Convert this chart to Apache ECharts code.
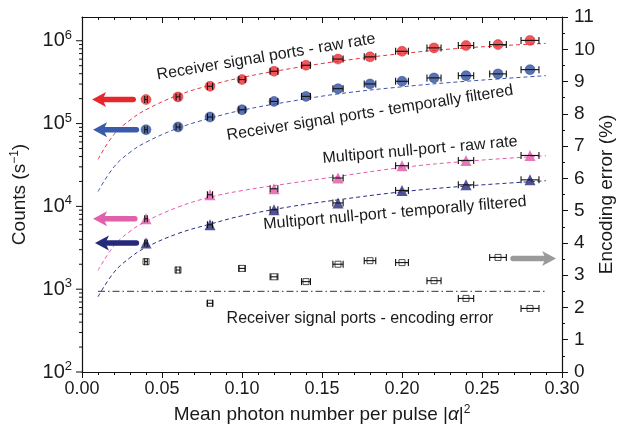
<!DOCTYPE html>
<html><head><meta charset="utf-8">
<script src="https://cdn.jsdelivr.net/npm/echarts@6/dist/echarts.min.js"></script>
<style>html,body{margin:0;padding:0;background:#fff}#c{width:617px;height:437px}</style>
</head><body><div id="c"></div>
<script>
// ---------- data ----------
const muAll   = [0.04,0.06,0.08,0.10,0.12,0.14,0.16,0.18,0.20,0.22,0.24,0.26,0.28];
const rawRate = [1.95e5,2.10e5,2.82e5,3.40e5,4.28e5,5.06e5,6.01e5,6.39e5,7.46e5,8.20e5,8.75e5,8.99e5,1.01e6];
const filtRate= [8.44e4,9.10e4,1.20e5,1.47e5,1.85e5,2.13e5,2.64e5,3.01e5,3.24e5,3.56e5,3.79e5,3.98e5,4.48e5];
const encErr  = [3.42,3.16,2.13,3.21,2.95,2.80,3.34,3.45,3.39,2.83,2.28,3.55,1.97];
const xErrAll = [0.0008,0.0012,0.0016,0.0020,0.0024,0.0028,0.0032,0.0036,0.0040,0.0044,0.0048,0.0052,0.0056];

const muNull   = [0.04,0.08,0.12,0.16,0.20,0.24,0.28];
const nullRaw  = [7.08e3,1.38e4,1.63e4,2.20e4,3.10e4,3.59e4,4.12e4];
const nullFilt = [3.60e3,5.99e3,9.10e3,1.10e4,1.56e4,1.82e4,2.09e4];
const xErrNull = [0.0008,0.0016,0.0024,0.0032,0.0040,0.0048,0.0056];

const fitMu       = [0.01,0.02,0.03,0.04,0.06,0.08,0.10,0.13,0.16,0.20,0.24,0.29];
const fitRaw      = [3.7e4,7.4e4,1.1e5,1.47e5,2.2e5,2.9e5,3.6e5,4.6e5,5.65e5,7.0e5,8.2e5,9.3e5];
const fitFilt     = [1.51e4,3.0e4,4.5e4,5.95e4,8.8e4,1.16e5,1.45e5,1.85e5,2.28e5,2.78e5,3.24e5,3.79e5];
const fitNullRaw  = [1.68e3,3.35e3,5.0e3,6.6e3,9.8e3,1.29e4,1.55e4,1.9e4,2.3e4,2.95e4,3.5e4,4.09e4];
const fitNullFilt = [810,1.6e3,2.4e3,3.2e3,4.7e3,6.1e3,7.7e3,9.9e3,1.2e4,1.5e4,1.76e4,2.04e4];

const thresholdMu  = [0.01,0.29];
const thresholdErr = 2.5;

// arrows: [tailMu, tipMu, value]
const arrowRaw      = [0.032,0.0063,1.95e5];
const arrowFilt     = [0.034,0.0069,8.44e4];
const arrowNullRaw  = [0.033,0.0069,7.08e3];
const arrowNullFilt = [0.034,0.0081,3.60e3];
const arrowErr      = [0.2694,0.2963,3.52];

const leftMajorTicks = [1e2,1e3,1e4,1e5,1e6];
const leftMinorTicks = [];
[1e2,1e3,1e4,1e5,1e6].forEach(d => { for (let k=2;k<=9;k++) { if (d*k < 1.93e6) leftMinorTicks.push(d*k); } });

// ---------- chart ----------
const FONT = "'Liberation Sans', Arial, sans-serif";
const TXT = '#1a1a1a';
const chart = echarts.init(document.getElementById('c'), null, {renderer:'canvas'});
const pairs = (xs, ys) => xs.map((x,i)=>[x, ys[i]]);

function errBars(xs, ys, errs, yAxisIndex) {
  return {
    type:'custom', xAxisIndex:0, yAxisIndex, z:6, silent:true, clip:false,
    data: xs.map((x,i)=>[x, ys[i], errs[i]]),
    encode:{x:0, y:1},
    renderItem:(params, api) => {
      const x = api.value(0), y = api.value(1), e = api.value(2);
      const p0 = api.coord([x-e, y]), p1 = api.coord([x+e, y]);
      const h = 3.5, st = {stroke:'#111', lineWidth:1.1};
      return {type:'group', children:[
        {type:'line', shape:{x1:p0[0],y1:p0[1],x2:p1[0],y2:p1[1]}, style:st},
        {type:'line', shape:{x1:p0[0],y1:p0[1]-h,x2:p0[0],y2:p0[1]+h}, style:st},
        {type:'line', shape:{x1:p1[0],y1:p1[1]-h,x2:p1[0],y2:p1[1]+h}, style:st}
      ]};
    }
  };
}
function tickSeries(vals, len) {
  return {
    type:'custom', xAxisIndex:0, yAxisIndex:0, silent:true, clip:false, z:10,
    data: vals.map(v=>[0, v]), encode:{x:0,y:1},
    renderItem:(params, api) => {
      const p = api.coord([0, api.value(1)]);
      return {type:'line', shape:{x1:p[0]-len,y1:p[1],x2:p[0],y2:p[1]}, style:{stroke:'#111', lineWidth:1}};
    }
  };
}
function fitLine(ys, color) {
  return {type:'line', xAxisIndex:0, yAxisIndex:0, data:pairs(fitMu, ys), smooth:0.4, showSymbol:false, symbol:'none',
    silent:true, z:2, lineStyle:{color, width:1, type:[4,3]}};
}
function arrow(a, color, yIdx) {
  return {
    type:'custom', xAxisIndex:0, yAxisIndex:yIdx, silent:true, clip:false, z:4,
    data:[[a[0], a[1], a[2]]], encode:{x:[0,1], y:2},
    renderItem:(params, api) => {
      const y = api.value(2);
      const p0 = api.coord([api.value(0), y]), p1 = api.coord([api.value(1), y]);
      const dx = p1[0]-p0[0], dy = p1[1]-p0[1], L = Math.hypot(dx,dy);
      const ux = dx/L, uy = dy/L, nx = -uy, ny = ux;
      const hl = 14, hw = 7.5;
      const bx = p1[0]-ux*hl, by = p1[1]-uy*hl;
      return {type:'group', children:[
        {type:'line', shape:{x1:p0[0],y1:p0[1],x2:bx+ux*3,y2:by+uy*3}, style:{stroke:color, lineWidth:5.5, lineCap:'round'}},
        {type:'polygon', shape:{points:[[p1[0],p1[1]],[bx+nx*hw,by+ny*hw],[bx+ux*3.5,by+uy*3.5],[bx-nx*hw,by-ny*hw]]}, style:{fill:color}}
      ]};
    }
  };
}
const lbl = (text, x, y, deg) => ({type:'text', x, y, rotation:deg*Math.PI/180, silent:true, z:20,
  style:{text, fill:TXT, font:'16px '+FONT, textAlign:'center', textVerticalAlign:'middle', align:'center', verticalAlign:'middle'}});

const option = {
  animation:false,
  textStyle:{fontFamily:FONT},
  grid:{left:82, right:55, top:17, bottom:65, containLabel:false, outerBoundsMode:'none'},
  xAxis:[
    {type:'value', position:'bottom', min:0, max:0.3, interval:0.05,
     name:'Mean photon number per pulse |{i|α}|{sup|2}', nameLocation:'middle', nameGap:32, nameMoveOverlap:false,
     nameTextStyle:{color:TXT, fontSize:19, fontFamily:FONT,
       rich:{i:{fontSize:19, fontStyle:'italic', color:TXT, fontFamily:FONT}, sup:{fontSize:12, padding:[0,0,10,0], color:TXT, fontFamily:FONT}}},
     axisLine:{show:true, onZero:false, lineStyle:{color:'#111', width:1.2}},
     axisTick:{show:true, inside:false, length:6, lineStyle:{color:'#111'}},
     minorTick:{show:true, splitNumber:5, length:3, lineStyle:{color:'#111'}},
     splitLine:{show:false}, minorSplitLine:{show:false},
     axisLabel:{color:TXT, fontSize:18, margin:8, fontFamily:FONT, formatter:v=>v.toFixed(2)}},
    {type:'value', position:'top', min:0, max:0.3, interval:0.05,
     axisLine:{show:true, onZero:false, lineStyle:{color:'#111', width:1.2}},
     axisTick:{show:true, inside:true, length:6, lineStyle:{color:'#111'}},
     minorTick:{show:true, splitNumber:5, length:3, lineStyle:{color:'#111'}},
     splitLine:{show:false}, axisLabel:{show:false}}
  ],
  yAxis:[
    {type:'log', logBase:10, position:'left', min:100, max:1.936e6,
     name:'Counts (s{sup|−1})', nameLocation:'middle', nameGap:51, nameRotate:90, nameMoveOverlap:false,
     nameTextStyle:{color:TXT, fontSize:19, fontFamily:FONT,
       rich:{sup:{fontSize:12, padding:[0,0,10,0], color:TXT, fontFamily:FONT}}},
     axisLine:{show:true, onZero:false, lineStyle:{color:'#111', width:1.2}},
     axisTick:{show:false}, splitLine:{show:false}, minorTick:{show:false},
     axisLabel:{color:TXT, fontSize:20, margin:10, fontFamily:FONT,
       formatter:v=>{const l=Math.log10(v), e=Math.round(l); return Math.abs(l-e)<1e-6 ? '10{sup|'+e+'}' : '';},
       rich:{sup:{fontSize:13, padding:[0,0,11,0], color:TXT, fontFamily:FONT}}}},
    {type:'value', position:'right', min:0, max:11, interval:1,
     name:'Encoding error (%)', nameLocation:'middle', nameGap:35, nameRotate:90, nameMoveOverlap:false,
     nameTextStyle:{color:TXT, fontSize:19, fontFamily:FONT},
     axisLine:{show:true, onZero:false, lineStyle:{color:'#111', width:1.2}},
     axisTick:{show:true, inside:false, length:6, lineStyle:{color:'#111'}},
     minorTick:{show:true, splitNumber:2, length:3, lineStyle:{color:'#111'}},
     splitLine:{show:false}, minorSplitLine:{show:false},
     axisLabel:{color:TXT, fontSize:19, margin:12, fontFamily:FONT}}
  ],
  series:[
    fitLine(fitRaw, '#e8343a'),
    fitLine(fitFilt, '#3d55b0'),
    fitLine(fitNullRaw, '#e45aae'),
    fitLine(fitNullFilt, '#2a2d86'),
    {type:'line', xAxisIndex:0, yAxisIndex:1, data:thresholdMu.map(x=>[x, thresholdErr]), symbol:'none', silent:true, z:2,
     lineStyle:{color:'#333', width:1, type:[7,3,1.5,3]}},
    {type:'scatter', yAxisIndex:0, data:pairs(muAll, rawRate), symbol:'circle', symbolSize:10, z:5,
     itemStyle:{color:'#ec2a2f', borderColor:'#c81a20', borderWidth:0.5}},
    {type:'scatter', yAxisIndex:0, data:pairs(muAll, filtRate), symbol:'circle', symbolSize:10, z:5,
     itemStyle:{color:'#2f4f9f', borderColor:'#203a80', borderWidth:0.5}},
    {type:'scatter', yAxisIndex:0, data:pairs(muNull, nullRaw), symbol:'triangle', symbolSize:11, z:5,
     itemStyle:{color:'#e056a8'}},
    {type:'scatter', yAxisIndex:0, data:pairs(muNull, nullFilt), symbol:'triangle', symbolSize:11, z:5,
     itemStyle:{color:'#26287c'}},
    {type:'scatter', yAxisIndex:1, data:pairs(muAll, encErr), symbol:'rect', symbolSize:6, z:5,
     itemStyle:{color:'#ffffff', borderColor:'#222', borderWidth:1}},
    errBars(muAll, rawRate, xErrAll, 0),
    errBars(muAll, filtRate, xErrAll, 0),
    errBars(muNull, nullRaw, xErrNull, 0),
    errBars(muNull, nullFilt, xErrNull, 0),
    errBars(muAll, encErr, xErrAll, 1),
    arrow(arrowRaw, '#e8262d', 0),
    arrow(arrowFilt, '#3a5aaa', 0),
    arrow(arrowNullRaw, '#e060ac', 0),
    arrow(arrowNullFilt, '#25297a', 0),
    arrow(arrowErr, '#9a9a9a', 1),
    tickSeries(leftMajorTicks, 6),
    tickSeries(leftMinorTicks, 3)
  ],
  graphic:[
    lbl('Receiver signal ports - raw rate', 266, 57, 9.5),
    lbl('Receiver signal ports - temporally filtered', 370, 113, 9),
    lbl('Multiport null-port - raw rate', 420, 150, 5),
    lbl('Multiport null-port - temporally filtered', 395, 213, 5),
    lbl('Receiver signal ports - encoding error', 360, 319, 0)
  ]
};
chart.setOption(option);
</script></body></html>
